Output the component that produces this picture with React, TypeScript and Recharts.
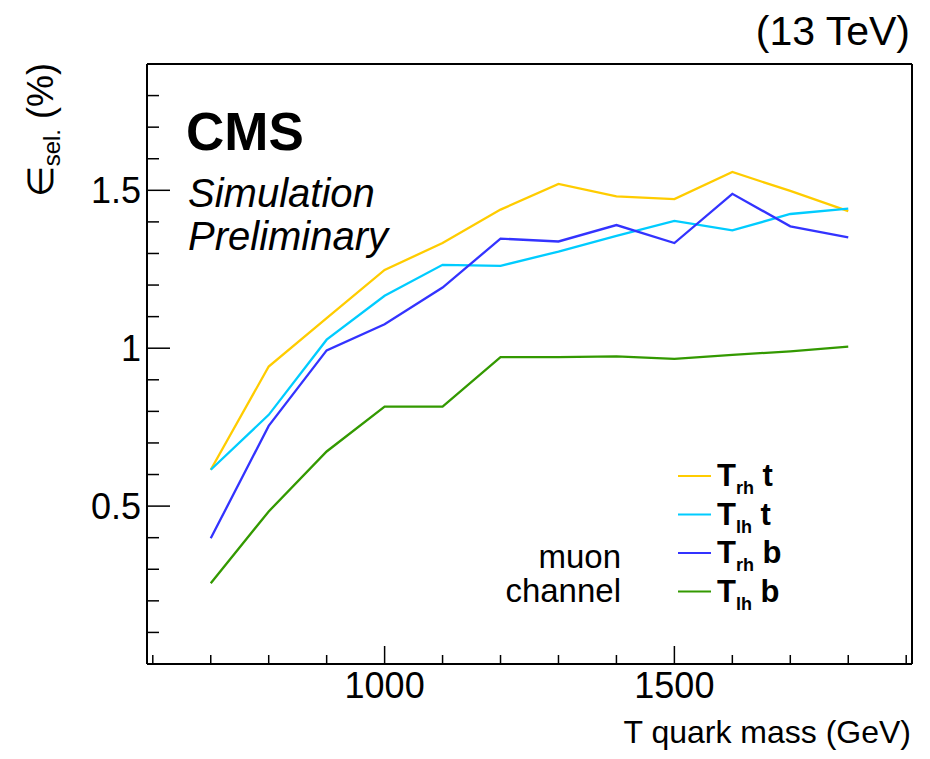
import { LineChart, Line, XAxis, YAxis, Legend } from "recharts";

// T quark mass points (GeV)
const masses = [700, 800, 900, 1000, 1100, 1200, 1300, 1400, 1500, 1600, 1700, 1800];

// selection efficiency (%) per signal hypothesis, muon channel
const trhT = [0.615, 0.942, 1.095, 1.248, 1.333, 1.439, 1.52, 1.481, 1.472, 1.558, 1.498, 1.434];
const tlhT = [0.615, 0.789, 1.027, 1.166, 1.264, 1.261, 1.306, 1.356, 1.403, 1.373, 1.425, 1.442];
const trhB = [0.398, 0.754, 0.993, 1.076, 1.192, 1.347, 1.338, 1.39, 1.333, 1.489, 1.386, 1.351];
const tlhB = [0.256, 0.483, 0.673, 0.815, 0.815, 0.972, 0.972, 0.974, 0.966, 0.979, 0.99, 1.005];

const seriesKeys = ["trhT", "tlhT", "trhB", "tlhB"];
const seriesSubs = ["rh", "lh", "rh", "lh"];
const seriesQuarks = ["t", "t", "b", "b"];
const seriesColors = ["#ffcc00", "#00ccff", "#3333ff", "#339900"];

const xTicks = [600, 700, 800, 900, 1000, 1100, 1200, 1300, 1400, 1500, 1600, 1700, 1800, 1900];
const xLabels = [1000, 1500];
const yTicks = [0.1, 0.2, 0.3, 0.4, 0.5, 0.6, 0.7, 0.8, 0.9, 1, 1.1, 1.2, 1.3, 1.4, 1.5, 1.6, 1.7, 1.8, 1.9];
const yLabels = [0.5, 1, 1.5];
const yLabelText = ["0.5", "1", "1.5"];

const FONT = '"Liberation Sans", Arial, Helvetica, sans-serif';

const data = masses.map((m, i) => ({
  mass: m,
  trhT: trhT[i],
  tlhT: tlhT[i],
  trhB: trhB[i],
  tlhB: tlhB[i],
}));

const isMajorX = (v: number) => xLabels.includes(v);
const isMajorY = (v: number) => yLabels.some((l) => Math.abs(l - v) < 1e-6);

// ROOT style ticks point into the frame
const BottomTick = (p: any) => {
  const v = p.payload.value;
  const len = isMajorX(v) ? 18 : 9;
  return (
    <g>
      <line x1={p.x} x2={p.x} y1={p.y} y2={p.y - len} stroke="#000" strokeWidth={1.5} />
      {isMajorX(v) && (
        <text x={p.x} y={p.y + 34} textAnchor="middle" fontSize={36} fontFamily={FONT} fill="#000">
          {v}
        </text>
      )}
    </g>
  );
};

const TopTick = (p: any) => {
  const len = isMajorX(p.payload.value) ? 18 : 9;
  return <line x1={p.x} x2={p.x} y1={p.y} y2={p.y + len} stroke="#000" strokeWidth={1.5} />;
};

const LeftTick = (p: any) => {
  const v = p.payload.value;
  const idx = yLabels.findIndex((l) => Math.abs(l - v) < 1e-6);
  const len = idx >= 0 ? 23 : 12;
  return (
    <g>
      <line x1={p.x} x2={p.x + len} y1={p.y} y2={p.y} stroke="#000" strokeWidth={1.5} />
      {idx >= 0 && (
        <text x={p.x - 6} y={p.y + 13} textAnchor="end" fontSize={36} fontFamily={FONT} fill="#000">
          {yLabelText[idx]}
        </text>
      )}
    </g>
  );
};

const RightTick = (p: any) => {
  const len = isMajorY(p.payload.value) ? 22 : 11;
  return <line x1={p.x} x2={p.x - len} y1={p.y} y2={p.y} stroke="#000" strokeWidth={1.5} />;
};

const renderLegend = (props: any) => {
  const items = [...(props.payload ?? [])].sort(
    (a: any, b: any) => seriesKeys.indexOf(a.dataKey) - seriesKeys.indexOf(b.dataKey)
  );
  return (
    <svg width={150} height={160} style={{ display: "block" }}>
      {items.map((entry: any, i: number) => {
        const idx = seriesKeys.indexOf(entry.dataKey);
        const cy = 20 + i * 38.5;
        return (
          <g key={entry.dataKey}>
            <line x1={2} x2={35} y1={cy} y2={cy} stroke={entry.color} strokeWidth={2.2} />
            <text x={41} y={cy + 10} fontSize={31} fontWeight="bold" fontFamily={FONT} fill="#000">
              T
              <tspan fontSize={18} dy={8}>
                {seriesSubs[idx]}
              </tspan>
              <tspan dy={-8}> {seriesQuarks[idx]}</tspan>
            </text>
          </g>
        );
      })}
    </svg>
  );
};

const frame = { stroke: "#000", strokeWidth: 2 };

export default function App() {
  return (
    <div style={{ position: "relative", width: 930, height: 759, background: "#fff" }}>
      <style>{"body{margin:0}"}</style>
      <LineChart
        width={930}
        height={759}
        data={data}
        margin={{ top: 63, right: 17, bottom: 35, left: 47 }}
      >
        <XAxis
          dataKey="mass"
          type="number"
          domain={[590, 1910]}
          ticks={xTicks}
          interval={0}
          tickLine={false}
          tickSize={0}
          tickMargin={0}
          axisLine={frame}
          height={60}
          tick={BottomTick}
        />
        <XAxis
          xAxisId="top"
          orientation="top"
          type="number"
          domain={[590, 1910]}
          ticks={xTicks}
          interval={0}
          tickLine={false}
          tickSize={0}
          tickMargin={0}
          axisLine={frame}
          height={1}
          tick={TopTick}
        />
        <YAxis
          type="number"
          domain={[0, 1.9]}
          ticks={yTicks}
          interval={0}
          tickLine={false}
          tickSize={0}
          tickMargin={0}
          axisLine={frame}
          width={100}
          tick={LeftTick}
        />
        <YAxis
          yAxisId="right"
          orientation="right"
          type="number"
          domain={[0, 1.9]}
          ticks={yTicks}
          interval={0}
          tickLine={false}
          tickSize={0}
          tickMargin={0}
          axisLine={frame}
          width={1}
          tick={RightTick}
        />
        {seriesKeys.map((k, i) => (
          <Line
            key={k}
            dataKey={k}
            name={`T${seriesSubs[i]} ${seriesQuarks[i]}`}
            type="linear"
            stroke={seriesColors[i]}
            strokeWidth={2.3}
            dot={false}
            activeDot={false}
            isAnimationActive={false}
          />
        ))}
        <Legend
          layout="vertical"
          align="center"
          verticalAlign="middle"
          content={renderLegend}
          wrapperStyle={{ left: 676, top: 456, width: 150 }}
        />
      </LineChart>
      <svg
        width={930}
        height={759}
        style={{ position: "absolute", left: 0, top: 0, pointerEvents: "none" }}
        fontFamily={FONT}
      >
        <text x={910} y={45} textAnchor="end" fontSize={41}>
          (13 TeV)
        </text>
        <text x={186} y={150} fontSize={53} fontWeight="bold">
          CMS
        </text>
        <text x={188} y={207} fontSize={40} fontStyle="italic">
          Simulation
        </text>
        <text x={188} y={250} fontSize={40} fontStyle="italic">
          Preliminary
        </text>
        <text x={621} y={568} textAnchor="end" fontSize={33}>
          muon
        </text>
        <text x={621} y={602} textAnchor="end" fontSize={33}>
          channel
        </text>
        <text x={911} y={743} textAnchor="end" fontSize={32}>
          T quark mass (GeV)
        </text>
        <text x={53} y={63} textAnchor="end" fontSize={36} transform="rotate(-90 53 63)">
          <tspan fontFamily="DejaVu Sans" fontWeight={300}>∈</tspan>
          <tspan fontSize={24} dy={7}>
            sel.
          </tspan>
          <tspan dy={-7}> (%)</tspan>
        </text>
      </svg>
    </div>
  );
}
